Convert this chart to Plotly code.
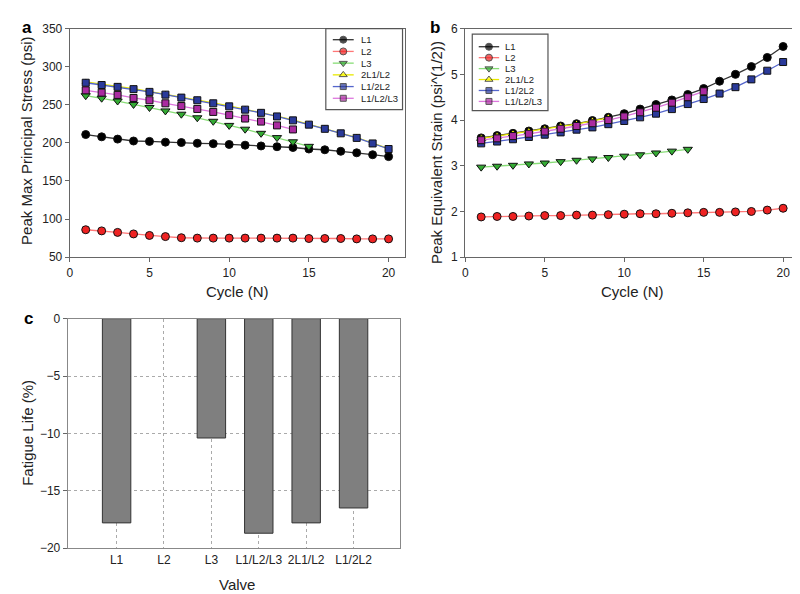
import plotly.graph_objects as go

W, H = 800, 594
FONT = "Liberation Sans, Arial, sans-serif"
TXT = "#222222"

# ---------------- data ----------------
cycles = list(range(1, 21))
series_names = ["L1", "L2", "L3", "2L1/L2", "L1/2L2", "L1/L2/L3"]

stress_L1 = [211, 208, 205, 202.5, 202, 201, 200.5, 199.5, 199, 198, 197, 196, 195, 194, 192, 191, 189, 187, 184.5, 182]
stress_L2 = [86, 84.5, 82.5, 80.5, 78.5, 77, 75.5, 75, 75, 75, 75, 75, 75, 75, 74.5, 74.5, 74.5, 74, 74, 74]
stress_L3 = [262, 258.7, 255, 250.5, 246.5, 242, 237.7, 233, 228.4, 223, 218, 212.6, 207, 201.5, 195.5]
stress_2L1L2 = [280, 276.6, 274.1, 271.1, 267.5, 263.9, 260, 256.5, 252.5, 248.5, 244.2, 240, 235.3, 230.1, 224.5, 219, 213.1, 207.1, 199.8, 192.5]
stress_L12L2 = [279, 276, 273.6, 270.6, 267, 263.4, 259.5, 256, 252, 248, 243.7, 239.5, 234.8, 229.6, 224, 218.5, 212.6, 206.6, 199.3, 192]
stress_L1L2L3 = [269, 266, 263, 259, 256, 252, 248.4, 244.6, 240.7, 236.5, 232, 228, 223, 217.7]

strain_L1 = [3.61, 3.66, 3.71, 3.76, 3.81, 3.87, 3.92, 3.99, 4.06, 4.14, 4.24, 4.34, 4.44, 4.56, 4.69, 4.85, 5.00, 5.17, 5.37, 5.61]
strain_L2 = [1.88, 1.89, 1.89, 1.90, 1.91, 1.91, 1.92, 1.92, 1.93, 1.94, 1.95, 1.95, 1.96, 1.97, 1.98, 1.98, 1.99, 2.00, 2.03, 2.07]
strain_L3 = [2.97, 2.99, 3.01, 3.04, 3.06, 3.09, 3.12, 3.15, 3.18, 3.21, 3.24, 3.28, 3.32, 3.36]
strain_2L1L2 = [3.60, 3.65, 3.70, 3.75, 3.80, 3.86, 3.91, 3.98, 4.05]
strain_L12L2 = [3.49, 3.53, 3.58, 3.63, 3.68, 3.73, 3.79, 3.84, 3.91, 3.98, 4.06, 4.14, 4.24, 4.35, 4.46, 4.58, 4.72, 4.89, 5.08, 5.27]
strain_L1L2L3 = [3.56, 3.60, 3.65, 3.70, 3.75, 3.81, 3.87, 3.93, 4.00, 4.08, 4.17, 4.27, 4.38, 4.50, 4.63]

valves = ["L1", "L2", "L3", "L1/L2/L3", "2L1/L2", "L1/2L2"]
fatigue_life = [-17.8, 0, -10.4, -18.7, -17.8, -16.5]

# ---------------- styles ----------------
marker_colors = ["#000000", "#ee2222", "#33aa33", "#ffff00", "#2a3a9a", "#aa2aa0"]
line_colors = ["#333333", "#ff7777", "#88dd77", "#e8e800", "#5566cc", "#dd77dd"]
symbols = ["circle", "circle", "triangle-down", "triangle-up", "square", "square"]
msizes = [8, 8, 8, 8, 7, 7]
msizes_a = [8, 8, 8, 6, 7, 7]

def px_x(p):
    return p / W

def px_y(p):
    return 1 - p / H

# plot areas in pixels (left, right, top, bottom)
A = (59, 395, 14, 248)
B = (456, 791, 14, 248)
C = (57, 390, 311, 546)

fig = go.Figure()

stress = [stress_L1, stress_L2, stress_L3, stress_2L1L2, stress_L12L2, stress_L1L2L3]
strain = [strain_L1, strain_L2, strain_L3, strain_2L1L2, strain_L12L2, strain_L1L2L3]

for i, name in enumerate(series_names):
    fig.add_trace(go.Scatter(
        x=cycles[:len(stress[i])], y=stress[i], mode="lines+markers", name=name,
        line=dict(color=line_colors[i], width=1.3),
        marker=dict(symbol=symbols[i], size=msizes_a[i], color=marker_colors[i],
                    line=dict(color="#111111", width=1)),
        xaxis="x", yaxis="y", showlegend=False))
for i, name in enumerate(series_names):
    fig.add_trace(go.Scatter(
        x=cycles[:len(strain[i])], y=strain[i], mode="lines+markers", name=name,
        line=dict(color=line_colors[i], width=1.3),
        marker=dict(symbol=symbols[i], size=msizes[i], color=marker_colors[i],
                    line=dict(color="#111111", width=1)),
        xaxis="x2", yaxis="y2", showlegend=False))

fig.add_trace(go.Bar(
    x=valves, y=fatigue_life, width=0.6,
    marker=dict(color="#7f7f7f",
                line=dict(color="#333333", width=[0 if v == 0 else 1 for v in fatigue_life])),
    xaxis="x3", yaxis="y3", showlegend=False))

# ---------------- manual legends (pixel overlay axis) ----------------
annotations = []
shapes = []
legends = [
    dict(box=(316, 393, 14, 97), lx0=323, lx1=344, tx=349, y0=25.3, dy=12.0),
    dict(box=(463, 539, 19.5, 98), lx0=469.5, lx1=490, tx=494, y0=32.5, dy=11.2),
]
for lg in legends:
    l, r, t, b = lg["box"]
    shapes.append(dict(type="rect", xref="paper", yref="paper",
                       x0=px_x(l), x1=px_x(r), y0=px_y(b), y1=px_y(t),
                       line=dict(color="#555555", width=1.2)))
    for i, name in enumerate(series_names):
        yy = lg["y0"] + lg["dy"] * i
        xm = (lg["lx0"] + lg["lx1"]) / 2
        fig.add_trace(go.Scatter(
            x=[lg["lx0"], xm, lg["lx1"]], y=[yy, yy, yy], mode="lines+markers",
            line=dict(color=line_colors[i], width=1.3),
            marker=dict(symbol=symbols[i], size=[0, msizes[i] - 1, 0], color=marker_colors[i],
                        line=dict(color="#111111", width=[0, 1, 0])),
            xaxis="x4", yaxis="y4", showlegend=False, hoverinfo="skip"))
        annotations.append(dict(text=name, x=px_x(lg["tx"]), y=px_y(yy), xref="paper", yref="paper",
                                xanchor="left", yanchor="middle", showarrow=False,
                                font=dict(size=9.5, color=TXT, family=FONT)))

# ---------------- titles / labels ----------------
def ann(text, x, y, size=15, angle=0, bold=False):
    annotations.append(dict(text=f"<b>{text}</b>" if bold else text, x=px_x(x), y=px_y(y),
                            xref="paper", yref="paper", showarrow=False, textangle=angle,
                            xanchor="center", yanchor="middle",
                            font=dict(size=size, color=TXT if not bold else "#000", family=FONT)))

ann("a", 16, 13, 17, bold=True)
ann("b", 426, 13, 17, bold=True)
ann("c", 18, 311, 17, bold=True)
ann("Peak Max Principal Stress (psi)", 16, 129, 15, -90)
ann("Cycle (N)", 227, 283, 15)
ann("Peak Equivalent Strain (psi^(1/2))", 427, 141, 15, -90)
ann("Cycle (N)", 624, 283, 15)
ann("Fatigue Life (%)", 17, 428, 15, -90)
ann("Valve", 227, 583, 15)

axis_common = dict(showline=True, linecolor="#666666", linewidth=1.2, mirror=True,
                   ticks="outside", ticklen=4, tickcolor="#666666", showgrid=False, zeroline=False,
                   tickfont=dict(size=12, color=TXT, family=FONT))

fig.update_layout(
    width=W, height=H, margin=dict(l=0, r=0, t=0, b=0),
    paper_bgcolor="white", plot_bgcolor="rgba(0,0,0,0)",
    font=dict(family=FONT, color=TXT),
    xaxis=dict(domain=[px_x(A[0]), px_x(A[1])], range=[0, 21], tickvals=[0, 5, 10, 15, 20],
               anchor="y", **axis_common),
    yaxis=dict(domain=[px_y(A[3]), px_y(A[2])], range=[50, 350], tickvals=[50, 100, 150, 200, 250, 300, 350],
               anchor="x", **axis_common),
    xaxis2=dict(domain=[px_x(B[0]), px_x(B[1])], range=[0, 21], tickvals=[0, 5, 10, 15, 20],
                anchor="y2", **axis_common),
    yaxis2=dict(domain=[px_y(B[3]), px_y(B[2])], range=[1, 6], tickvals=[1, 2, 3, 4, 5, 6],
                anchor="x2", **axis_common),
    xaxis3=dict(domain=[px_x(C[0]), px_x(C[1])], range=[-1.03, 5.97], anchor="y3",
                showline=True, linecolor="#888888", linewidth=1.2, mirror=True, ticks="",
                showgrid=True, gridcolor="#aaaaaa", griddash="dot", gridwidth=1, zeroline=False,
                tickfont=dict(size=12, color=TXT, family=FONT)),
    yaxis3=dict(domain=[px_y(C[3]), px_y(C[2])], range=[-20, 0], tickvals=[-20, -15, -10, -5, 0],
                anchor="x3", showline=True, linecolor="#888888", linewidth=1.2, mirror=True,
                ticks="outside", ticklen=4, tickcolor="#666666",
                showgrid=True, gridcolor="#aaaaaa", griddash="dot", gridwidth=1, zeroline=False,
                tickfont=dict(size=12, color=TXT, family=FONT)),
    xaxis4=dict(domain=[0, 1], range=[0, W], visible=False, anchor="y4", fixedrange=True),
    yaxis4=dict(domain=[0, 1], range=[H, 0], visible=False, anchor="x4", fixedrange=True),
    annotations=annotations,
    shapes=shapes,
)

fig.write_html("out.html")
